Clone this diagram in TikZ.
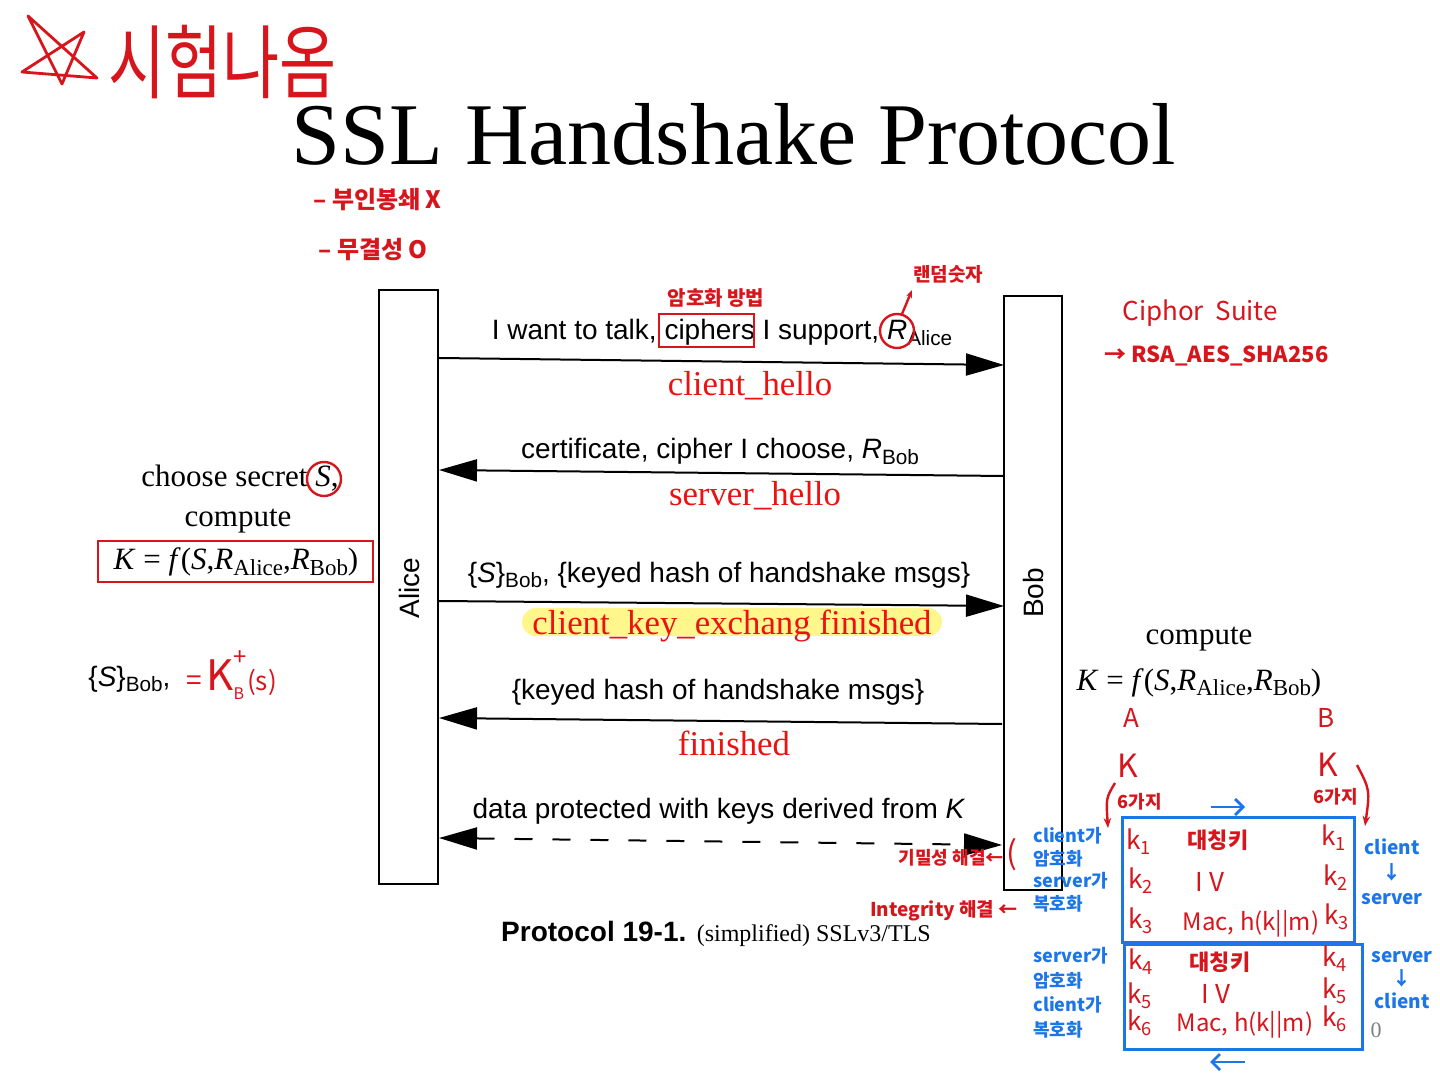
\documentclass[tikz,border=0pt]{standalone}
\usepackage{fontspec}
\setmainfont{Liberation Serif}
\setsansfont{Liberation Sans}
\newfontfamily\kr{Noto Sans CJK KR}
\usetikzlibrary{arrows.meta}
\definecolor{hred}{RGB}{214,22,28}
\definecolor{pred}{RGB}{236,18,18}
\definecolor{hblue}{RGB}{28,118,232}
\definecolor{hlyel}{RGB}{255,247,140}
\newcommand\subx[1]{\raisebox{-0.4ex}{\scalebox{0.74}{#1}}}
\tikzset{
  lifeline/.style={draw=black, line width=1.1pt, fill=white, inner sep=0pt},
  msg/.style={font=\sffamily\fontsize{14}{16}\selectfont, anchor=base, inner sep=0pt},
  lbl/.style={font=\fontsize{17.4}{20}\selectfont, text=pred, anchor=base, inner sep=0pt},
  serif/.style={font=\fontsize{15.5}{18}\selectfont, anchor=base, inner sep=0pt},
  arr/.style={line width=1pt, -{Triangle[length=19pt,width=11pt]}},
  dasharr/.style={line width=1pt, dash pattern=on 9pt off 10pt, {Triangle[length=19pt,width=11pt]}-{Triangle[length=19pt,width=11pt]}},
  hand/.style={font=\kr\bfseries\fontsize{10}{11}\selectfont, text=hred, inner sep=0pt},
  handbl/.style={font=\kr\bfseries\fontsize{9}{10}\selectfont, text=hblue, inner sep=0pt},
  redline/.style={draw=hred, line width=1.2pt},
  blueline/.style={draw=hblue, line width=1.4pt},
}
\begin{document}
\begin{tikzpicture}[x=0.5pt,y=-0.5pt]
\useasboundingbox (0,0) rectangle (1440,1074);
\fill[white] (0,0) rectangle (1440,1074);

% ---------- title and top notes ----------
\node[anchor=base, inner sep=0pt, font=\fontsize{44}{50}\selectfont] (title) at (734,165) {SSL Handshake Protocol};
\draw[redline, line width=1.4pt, line join=round] (28,16) -- (62,84) -- (84,32) -- (22,72) -- (97,78) -- cycle;
\node[hand, font=\kr\fontsize{31}{34}\selectfont, anchor=west, yscale=1.3] (exam) at (108,62) {시험나옴};
\node[hand, font=\kr\bfseries\fontsize{12}{14}\selectfont, anchor=west] (nonrep) at (313,200) {– 부인봉쇄 X};
\node[hand, font=\kr\bfseries\fontsize{12}{14}\selectfont, anchor=west] (integ) at (318,250) {– 무결성 O};

% ---------- lifelines ----------
\node[lifeline, minimum width=29.5pt, minimum height=297pt] (alice) at (408.5,587) {};
\node[lifeline, minimum width=29pt, minimum height=297pt] (bob) at (1033,593) {};
\node[rotate=90, font=\sffamily\fontsize{14}{16}\selectfont] (alicelbl) at (409,588) {Alice};
\node[rotate=90, font=\sffamily\fontsize{14}{16}\selectfont] (boblbl) at (1033,593) {Bob};

% arrow end points on the lifelines
\coordinate (a1) at (439,358); \coordinate (b1) at (1004,365);
\coordinate (a2) at (439,470); \coordinate (b2) at (1004,476);
\coordinate (a3) at (439,601); \coordinate (b3) at (1004,606);
\coordinate (a4) at (439,718); \coordinate (b4) at (1002,724);
\coordinate (a5) at (439,838); \coordinate (b5) at (1002,845);

% ---------- messages ----------
\draw[arr] (a1) -- (b1);
\node[msg] (m1) at (722,340) {I want to talk, ciphers I support, \textit{R}\subx{Alice}};
\node[lbl] (l1) at (750,396) {client\_hello};

\draw[arr] (b2) -- (a2);
\node[msg] (m2) at (720,459) {certificate, cipher I choose, \textit{R}\subx{Bob}};
\node[lbl] (l2) at (755,506) {server\_hello};

\draw[arr] (a3) -- (b3);
\node[msg] (m3) at (719,582) {\{\textit{S}\}\subx{Bob}, \{keyed hash of handshake msgs\}};
\node[fill=hlyel, rounded corners=7pt, minimum width=210pt, minimum height=14pt, inner sep=0pt] (hlbar) at (732,622) {};
\node[lbl] (l3) at (732,634) {client\_key\_exchang finished};

\draw[arr] (b4) -- (a4);
\node[msg] (m4) at (718,699) {\{keyed hash of handshake msgs\}};
\node[lbl] (l4) at (734,755) {finished};

\draw[dasharr] (a5) -- (b5);
\node[msg] (m5) at (719,818) {data protected with keys derived from \textit{K}};

% caption
\node[anchor=base, inner sep=0pt] (cap) at (716,941) {\sffamily\bfseries\fontsize{14}{16}\selectfont Protocol 19-1. \rmfamily\mdseries\fontsize{12}{14}\selectfont (simplified) SSLv3/TLS};

% ---------- Alice side ----------
\node[serif] (choose) at (240,487) {choose secret \textit{S},};
\draw[redline] (324,479) circle (8.5pt);
\node[serif] (compA) at (238,527) {compute};
\node[serif] (kA) at (236,570) {\textit{K} = \textit{f}(\textit{S},\textit{R}\subx{Alice},\textit{R}\subx{Bob})};
\draw[redline] (98,541) rectangle (373,582);
\node[msg, anchor=base west] (sbob) at (88,686) {\{\textit{S}\}\subx{Bob},};
\node[hand, font=\kr\fontsize{14}{16}\selectfont, anchor=base west] (kbs) at (186,690) {=\,{\fontsize{21}{22}\selectfont K}\makebox[0pt][l]{\raisebox{-0.6ex}{\fontsize{8}{9}\selectfont B}}\raisebox{1.6ex}{\fontsize{12}{13}\selectfont +}{\fontsize{13}{14}\selectfont (s)}};

% ---------- Bob side ----------
\node[serif] (compB) at (1199,645) {compute};
\node[serif] (kB) at (1199,690) {\textit{K} = \textit{f}(\textit{S},\textit{R}\subx{Alice},\textit{R}\subx{Bob})};

% ---------- annotations on first message ----------
\draw[redline] (659,314) rectangle (754,347);
\node[hand] (method) at (716,298) {암호화 방법};
\draw[redline] (897,331) circle (8.5pt);
\coordinate (rtip) at (912,290);
\draw[redline, -{Stealth[length=4pt]}] (902,314) -- (rtip);
\node[hand, font=\kr\bfseries\fontsize{9.5}{10}\selectfont] (rand) at (948,274) {랜덤숫자};
\node[hand, font=\kr\fontsize{13}{14}\selectfont, anchor=west] (suite) at (1122,313) {Ciphor\ \ Suite};
\node[hand, font=\kr\bfseries\fontsize{11}{12}\selectfont, anchor=west] (rsa) at (1104,356) {→ RSA\_AES\_SHA256};

% ---------- key derivation notes ----------
\node[hand, font=\kr\fontsize{13}{14}\selectfont] (ka) at (1131,718) {A};
\node[hand, font=\kr\fontsize{13}{14}\selectfont] (kb) at (1326,718) {B};
\node[hand, font=\kr\fontsize{16}{18}\selectfont] (kk1) at (1128,766) {K};
\node[hand, font=\kr\fontsize{16}{18}\selectfont] (kk2) at (1328,765) {K};
\node[hand, font=\kr\bfseries\fontsize{9}{10}\selectfont] (six1) at (1140,802) {6가지};
\node[hand, font=\kr\bfseries\fontsize{9}{10}\selectfont] (six2) at (1336,797) {6가지};
\coordinate (c1s) at (1115,783); \coordinate (c1e) at (1108,828);
\coordinate (c2s) at (1357,765); \coordinate (c2e) at (1365,826);
\draw[redline, -{Stealth[length=5pt]}] (c1s) .. controls (1106,798) .. (c1e);
\draw[redline, -{Stealth[length=5pt]}] (c2s) .. controls (1370,790) .. (c2e);

\coordinate (ar1s) at (1211,807); \coordinate (ar1e) at (1245,807);
\draw[blueline, -{Straight Barb[length=4pt]}] (ar1s) -- (ar1e);
\node[draw=hblue, line width=1.5pt, minimum width=116pt, minimum height=62.5pt, inner sep=0pt] (box1) at (1238,879.5) {};
\node[draw=hblue, line width=1.5pt, minimum width=119pt, minimum height=52.5pt, inner sep=0pt] (box2) at (1243,996.5) {};
\coordinate (ar2s) at (1245,1062); \coordinate (ar2e) at (1210,1062);
\draw[blueline, -{Straight Barb[length=4pt]}] (ar2s) -- (ar2e);

% box 1 contents
\node[hand, font=\kr\fontsize{13}{14}\selectfont] (k1a) at (1139,842) {k\textsubscript{1}};
\node[hand, font=\kr\bfseries\fontsize{11}{12}\selectfont] (sym1) at (1218,840) {대칭키};
\node[hand, font=\kr\fontsize{13}{14}\selectfont] (k1b) at (1334,838) {k\textsubscript{1}};
\node[hand, font=\kr\fontsize{13}{14}\selectfont] (k2a) at (1141,881) {k\textsubscript{2}};
\node[hand, font=\kr\fontsize{13}{14}\selectfont] (iv1) at (1210,882) {I V};
\node[hand, font=\kr\fontsize{13}{14}\selectfont] (k2b) at (1336,878) {k\textsubscript{2}};
\node[hand, font=\kr\fontsize{13}{14}\selectfont] (k3a) at (1141,921) {k\textsubscript{3}};
\node[hand, font=\kr\fontsize{12}{14}\selectfont] (mac1) at (1251,924) {Mac, h(k||m)};
\node[hand, font=\kr\fontsize{13}{14}\selectfont] (k3b) at (1337,917) {k\textsubscript{3}};
% box 2 contents
\node[hand, font=\kr\fontsize{13}{14}\selectfont] (k4a) at (1141,962) {k\textsubscript{4}};
\node[hand, font=\kr\bfseries\fontsize{11}{12}\selectfont] (sym2) at (1220,962) {대칭키};
\node[hand, font=\kr\fontsize{13}{14}\selectfont] (k4b) at (1335,959) {k\textsubscript{4}};
\node[hand, font=\kr\fontsize{13}{14}\selectfont] (k5a) at (1140,996) {k\textsubscript{5}};
\node[hand, font=\kr\fontsize{13}{14}\selectfont] (iv2) at (1216,994) {I V};
\node[hand, font=\kr\fontsize{13}{14}\selectfont] (k5b) at (1335,991) {k\textsubscript{5}};
\node[hand, font=\kr\fontsize{13}{14}\selectfont] (k6a) at (1140,1023) {k\textsubscript{6}};
\node[hand, font=\kr\fontsize{12}{14}\selectfont] (mac2) at (1245,1025) {Mac, h(k||m)};
\node[hand, font=\kr\fontsize{13}{14}\selectfont] (k6b) at (1335,1019) {k\textsubscript{6}};

% blue notes
\node[handbl, align=left, anchor=north west, font=\kr\bfseries\fontsize{9}{11.3}\selectfont] (cnote) at (1033,827) {client가\\암호화\\server가\\복호화};
\node[handbl, align=left, anchor=north west, font=\kr\bfseries\fontsize{9}{12.3}\selectfont] (snote) at (1033,947) {server가\\암호화\\client가\\복호화};
\node[handbl, align=center, anchor=north, font=\kr\bfseries\fontsize{9.5}{12.5}\selectfont] (cs) at (1392,838) {client\\↓\\server};
\node[handbl, align=center, anchor=north, font=\kr\bfseries\fontsize{9.5}{11.5}\selectfont] (sc) at (1402,951) {server\\↓\\client};
\node[text=gray, font=\fontsize{11}{12}\selectfont] (zero) at (1376,1030) {0};

% red notes near Bob
\node[hand, font=\kr\bfseries\fontsize{9}{10}\selectfont, anchor=east] (conf) at (1004,858) {기밀성 해결←};
\node[hand, font=\kr\fontsize{16}{18}\selectfont] (paren) at (1012,855) {(};
\node[hand, font=\kr\bfseries\fontsize{9.5}{10}\selectfont, anchor=east] (intg) at (1018,911) {Integrity 해결 ←};
\end{tikzpicture}
\end{document}
